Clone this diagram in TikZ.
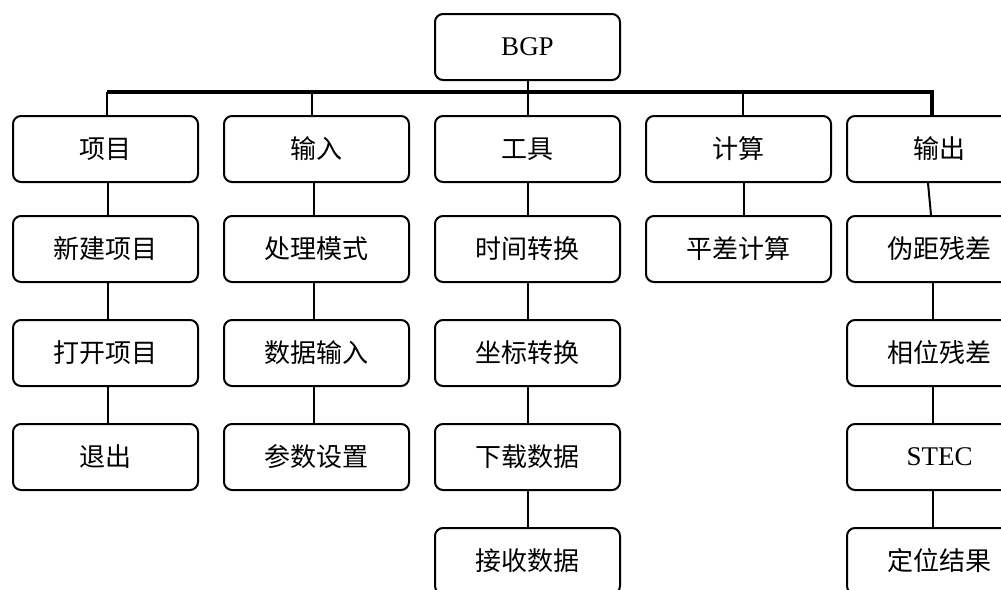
\documentclass[tikz,border=0pt]{standalone}
\usepackage{fontspec}
\setmainfont{Liberation Serif}
\newfontfamily\cjk{Noto Sans CJK SC}[FontFace={l}{n}{Font=Noto Sans CJK SC Light}]
\begin{document}
\begin{tikzpicture}[x=1pt,y=-1pt,
  box/.style={draw=black, line width=2pt, rounded corners=8pt, fill=white,
    minimum width=185pt, minimum height=66pt, inner sep=0pt, anchor=north west,
    font=\fontsize{26}{30}\selectfont\cjk},
  latin/.style={font=\fontsize{27}{30}\selectfont\rmfamily},
  link/.style={line width=2pt},
  bus/.style={line width=3.6pt}]
\clip (0,0) rectangle (1001,589);
\fill[white] (0,0) rectangle (1001,589);
% root
\node[box,latin] (bgp) at (434,13) {BGP};
% column 1
\node[box] (a1) at (12,115) {项目};
\node[box] (a2) at (12,215) {新建项目};
\node[box] (a3) at (12,319) {打开项目};
\node[box] (a4) at (12,423) {退出};
% column 2
\node[box] (b1) at (223,115) {输入};
\node[box] (b2) at (223,215) {处理模式};
\node[box] (b3) at (223,319) {数据输入};
\node[box] (b4) at (223,423) {参数设置};
% column 3
\node[box] (c1) at (434,115) {工具};
\node[box] (c2) at (434,215) {时间转换};
\node[box] (c3) at (434,319) {坐标转换};
\node[box] (c4) at (434,423) {下载数据};
\node[box] (c5) at (434,527) {接收数据};
% column 4
\node[box] (d1) at (645,115) {计算};
\node[box] (d2) at (645,215) {平差计算};
% column 5
\node[box] (e1) at (846,115) {输出};
\node[box] (e2) at (846,215) {伪距残差};
\node[box] (e3) at (846,319) {相位残差};
\node[box,latin] (e4) at (846,423) {STEC};
\node[box] (e5) at (846,527) {定位结果};
% bus
\coordinate (busL) at (107,92);
\coordinate (busR) at (932,92);
\draw[bus] (busL) -- (busR) -- (e1.north -| busR);
\draw[link] (bgp.south) -- (c1.north);
\draw[link] (busL) -- (a1.north -| busL);
\draw[link] (b1.north -| 312,0) -- (312,92);
\draw[link] (d1.north -| 743,0) -- (743,92);
% column links
\draw[link] ([xshift=2pt]a1.south) -- ([xshift=2pt]a2.north);
\draw[link] ([xshift=2pt]a2.south) -- ([xshift=2pt]a3.north);
\draw[link] ([xshift=2pt]a3.south) -- ([xshift=2pt]a4.north);
\draw[link] ([xshift=-3pt]b1.south) -- ([xshift=-3pt]b2.north);
\draw[link] ([xshift=-3pt]b2.south) -- ([xshift=-3pt]b3.north);
\draw[link] ([xshift=-3pt]b3.south) -- ([xshift=-3pt]b4.north);
\draw[link] (c1.south) -- (c2.north);
\draw[link] (c2.south) -- (c3.north);
\draw[link] (c3.south) -- (c4.north);
\draw[link] (c4.south) -- (c5.north);
\draw[link] ([xshift=5pt]d1.south) -- ([xshift=5pt]d2.north);
\draw[link] ([xshift=-11.5pt]e1.south) -- ([xshift=-8.5pt]e2.north);
\draw[link] ([xshift=-6.5pt]e2.south) -- ([xshift=-6.5pt]e3.north);
\draw[link] ([xshift=-6.5pt]e3.south) -- ([xshift=-6.5pt]e4.north);
\draw[link] ([xshift=-6.5pt]e4.south) -- ([xshift=-6.5pt]e5.north);
\end{tikzpicture}
\end{document}
